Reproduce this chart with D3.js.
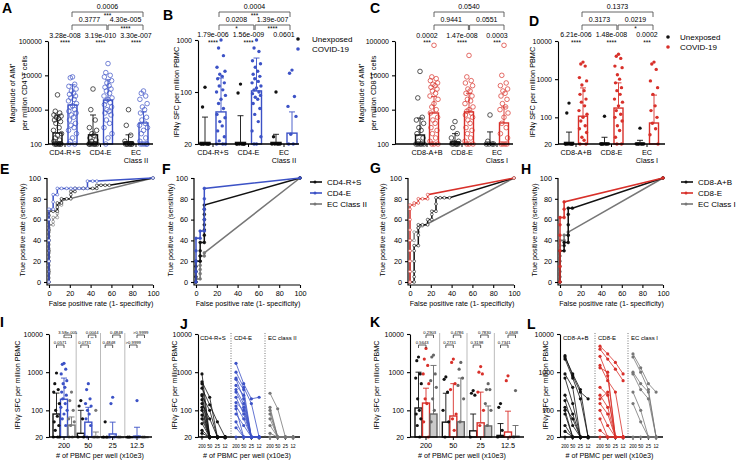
<!DOCTYPE html>
<html>
<head>
<meta charset="utf-8">
<title>AIM and IFNγ responses</title>
<script src="https://cdn.jsdelivr.net/npm/d3@7"></script>
<style>
  body { margin: 0; background: #fff; }
  svg { display: block; }
</style>
</head>
<body>
<svg id="fig" width="739" height="462"></svg>
<script>
const FONT = '"Liberation Sans", Arial, sans-serif';
const BLACK = '#111', BLUE = '#3c52c6', RED = '#d8302a', GREY = '#777';

/////////// A: AIM+ CD4 ///////////
const cd4Groups = ['CD4-R+S', 'CD4-E', 'EC|Class II'];
const aim4UnexpBar = [210, 185, 115];
const aim4UnexpErr = [700, 700, 185];
const aim4CovidBar = [1370, 1900, 410];
const aim4CovidErr = [5300, 7400, 860];
const aim4UnexpPts = [
  [2700, 900, 800, 700, 650, 600, 550, 500, 450, 400, 300, 250, 200, 180, 150, 130, 120, 100, 100, 100, 100, 100, 100, 100],
  [4000, 1000, 500, 300, 250, 200, 180, 150, 130, 120, 100, 100, 100, 100, 100, 100, 100],
  [1000, 350, 180, 120, 100, 100, 100, 100, 100, 100, 100]
];
const aim4CovidPts = [
  [9000, 8500, 5500, 4800, 4000, 3500, 3000, 2800, 2500, 2200, 2000, 1800, 1500, 1300, 1200, 1000, 900, 800, 700, 600, 500, 400, 350, 300, 250, 200, 150, 120, 100, 100],
  [22000, 12000, 10000, 9000, 7000, 6000, 5000, 4500, 4000, 3500, 3000, 2500, 2200, 2000, 1800, 1600, 1400, 1200, 1000, 900, 800, 700, 500, 400, 300, 200, 150, 100],
  [3500, 3000, 2500, 2000, 1500, 1200, 1000, 800, 600, 500, 400, 350, 300, 250, 200, 150, 120, 100, 100, 100, 100, 100]
];
const aim4P = ['3.28e-008', '3.19e-010', '3.30e-007'];
const aim4Stars = ['****', '****', '****'];
const aim4Brackets = [[0, 2, '0.0006', '***', 2], [0, 1, '0.3777', '', 1], [1, 2, '4.30e-005', '****', 1]];

/////////// B: IFNg CD4 ///////////
const ifn4UnexpBar = [21, 21, 21];
const ifn4UnexpErr = [46, 48, 27];
const ifn4CovidBar = [54, 105, 28];
const ifn4CovidErr = [186, 450, 54];
const ifn4UnexpPts = [
  [123, 63, 20, 20, 20, 20, 20, 20, 20, 20],
  [142, 97, 20, 20, 20, 20, 20, 20, 20],
  [100, 25, 20, 20, 20, 20, 20]
];
const ifn4CovidPts = [
  [1000, 700, 500, 300, 250, 220, 200, 180, 150, 130, 110, 100, 90, 80, 70, 60, 50, 45, 40, 35, 30, 25, 22, 20, 20, 20],
  [1000, 700, 600, 400, 350, 300, 250, 220, 200, 180, 160, 150, 130, 120, 110, 100, 95, 90, 85, 80, 70, 60, 50, 40, 30, 25, 20, 20],
  [264, 230, 87, 64, 47, 27, 20, 20]
];
const ifn4P = ['1.79e-006', '1.56e-009', '0.0601'];
const ifn4Stars = ['****', '****', ''];
const ifn4Brackets = [[0, 2, '0.0004', '***', 2], [0, 1, '0.0208', '*', 1], [1, 2, '1.39e-007', '****', 1]];

/////////// C: AIM+ CD8 ///////////
const cd8Groups = ['CD8-A+B', 'CD8-E', 'EC|Class I'];
const aim8UnexpBar = [183, 115, 102];
const aim8UnexpErr = [570, 200, 225];
const aim8CovidBar = [800, 860, 410];
const aim8CovidErr = [2400, 3000, 1200];
const aim8UnexpPts = [
  [13000, 2200, 600, 500, 400, 300, 250, 200, 150, 120, 100, 100, 100, 100, 100],
  [450, 300, 200, 150, 120, 110, 100, 100, 100, 100, 100],
  [700, 120, 100, 100, 100, 100]
];
const aim8CovidPts = [
  [75000, 9000, 8000, 7000, 6000, 5500, 5000, 4500, 4000, 3500, 3000, 2500, 2000, 1500, 1200, 1000, 800, 600, 500, 400, 300, 250, 200, 150, 120, 100, 100, 100],
  [38000, 9000, 7000, 6000, 5000, 4000, 3500, 3000, 2500, 2000, 1800, 1500, 1200, 1000, 900, 800, 700, 600, 500, 400, 300, 250, 200, 150, 120, 100, 100, 100],
  [75000, 10000, 6000, 5000, 4000, 3500, 3000, 2500, 2000, 1500, 1200, 1000, 800, 600, 400, 300, 200, 150, 100, 100, 100, 100]
];
const aim8P = ['0.0002', '1.47e-008', '0.0003'];
const aim8Stars = ['***', '****', '***'];
const aim8Brackets = [[0, 2, '0.0540', '', 2], [0, 1, '0.9441', '', 1], [1, 2, '0.0551', '', 1]];

/////////// D: IFNg CD8 ///////////
const ifn8UnexpBar = [22, 21, 21];
const ifn8UnexpErr = [41, 30, 25];
const ifn8CovidBar = [107, 175, 71];
const ifn8CovidErr = [590, 800, 382];
const ifn8UnexpPts = [
  [236, 130, 20, 20, 20, 20, 20, 20, 20],
  [107, 20, 20, 20, 20, 20, 20, 20],
  [52, 20, 20, 20, 20, 20, 20]
];
const ifn8CovidPts = [
  [2800, 2500, 2200, 1100, 900, 700, 500, 400, 300, 250, 200, 150, 120, 100, 80, 60, 50, 40, 30, 25, 20, 20],
  [4500, 4000, 3500, 2200, 2000, 1300, 1000, 800, 600, 500, 400, 300, 250, 200, 150, 120, 100, 80, 60, 45, 30, 20, 20],
  [2800, 2500, 1800, 900, 600, 400, 200, 150, 100, 70, 50, 35, 20]
];
const ifn8P = ['6.21e-006', '1.48e-008', '0.0002'];
const ifn8Stars = ['****', '****', '***'];
const ifn8Brackets = [[0, 2, '0.1373', '', 2], [0, 1, '0.3173', '', 1], [1, 2, '0.0219', '*', 1]];

/////////// E-H: ROC curves [FPR, TPR] ///////////
const rocE_RS = [[0,0],[0,10],[0,20],[0,30],[0,40],[0,50],[0,60],[0,64],[0,68],[4,68],[8,68],[8,72],[8,76],[12,76],[12,80],[17,80],[21,80],[21,84],[21,87],[25,87],[25,90],[33,90],[42,90],[46,90],[46,93],[50,93],[54,93],[58,93],[100,100]];
const rocE_E = [[0,0],[0,20],[0,40],[0,60],[0,70],[4,70],[4,77],[4,84],[8,84],[8,90],[12,90],[17,90],[21,90],[25,90],[29,90],[33,90],[37,90],[37,97],[42,97],[46,97],[100,100]];
const rocE_EC = [[0,0],[0,4],[0,8],[0,12],[0,16],[0,20],[0,24],[0,28],[0,32],[0,36],[0,40],[0,44],[0,48],[0,52],[0,55],[4,55],[4,58],[4,62],[8,62],[8,66],[8,70],[8,74],[12,74],[12,78],[100,100]];
const rocF_RS = [[0,0],[0,5],[0,10],[0,15],[0,20],[4,20],[4,25],[4,30],[4,38],[8,38],[8,45],[8,50],[8,55],[8,60],[8,65],[8,70],[8,74],[100,100]];
const rocF_E = [[0,0],[0,10],[0,20],[0,30],[0,42],[4,42],[4,49],[8,49],[8,60],[8,70],[8,80],[8,90],[100,100]];
const rocF_EC = [[0,0],[0,3],[4,3],[4,8],[4,12],[4,16],[4,20],[4,25],[8,25],[8,28],[100,100]];
const rocG_AB = [[0,0],[4,0],[4,5],[4,10],[4,20],[4,30],[4,35],[8,35],[8,45],[8,52],[8,55],[12,55],[17,55],[17,60],[21,60],[21,65],[21,68],[25,68],[25,75],[25,81],[29,81],[33,81],[38,81],[100,100]];
const rocG_E = [[0,0],[0,10],[0,20],[0,30],[0,40],[0,50],[0,60],[0,70],[0,74],[4,74],[4,76],[8,76],[8,80],[12,80],[17,80],[17,84],[100,100]];
const rocG_EC = [[0,0],[0,10],[0,20],[0,30],[0,40],[4,40],[4,48],[8,48],[8,52],[12,54],[17,56],[100,100]];
const rocH_AB = [[0,0],[0,30],[4,30],[4,35],[4,38],[8,38],[8,45],[8,55],[8,65],[8,71],[12,71],[100,100]];
const rocH_E = [[0,0],[0,15],[0,30],[0,45],[0,55],[0,62],[4,62],[4,70],[4,77],[100,100]];
const rocH_EC = [[0,0],[0,5],[0,10],[0,15],[0,20],[0,25],[0,30],[0,35],[0,40],[4,40],[4,45],[8,45],[8,48],[100,100]];
const rocTicks = [0, 20, 40, 60, 80, 100];

/////////// I, K: titration bars ///////////
const cellGroups = ['200', '50', '25', '12.5'];
const titI_RS_Bar = [80, 25, 20, 20];
const titI_RS_Err = [283, 100, 20, 20];
const titI_E_Bar = [195, 49, 24, 21];
const titI_E_Err = [700, 120, 49, 36];
const titI_EC_Bar = [41, 20, 20, 20];
const titI_EC_Err = [67, 27, 20, 20];
const titI_RS_Pts = [[950, 500, 350, 300, 150, 100, 70, 50, 40, 30, 20, 20, 20], [180, 130, 60, 20, 20], [50, 20, 20], [20, 20]];
const titI_E_Pts = [[1700, 1600, 1200, 900, 600, 500, 400, 300, 250, 200, 150, 120, 100, 80, 60, 40], [500, 350, 200, 150, 130, 100, 80, 60, 40, 20], [220, 150, 20, 20], [180, 20, 20]];
const titI_EC_Pts = [[300, 180, 100, 60, 50, 40, 20, 20], [100, 20, 20], [20, 20], [20, 20]];
const titI_lowP = ['0.0571', '0.0731', '0.4848', '>0.9999'];
const titI_highP = ['3.58e-005', '0.0044', '0.4848', '>0.9999'];
const titI_highStars = ['****', '**', '', ''];

const titK_AB_Bar = [115, 49, 29, 22];
const titK_AB_Err = [1000, 280, 80, 45];
const titK_E_Bar = [155, 71, 47, 27];
const titK_E_Err = [380, 500, 300, 95];
const titK_EC_Bar = [80, 50, 39, 21];
const titK_EC_Err = [1500, 700, 130, 40];
const titK_AB_Pts = [[2500, 2000, 900, 700, 500, 200, 100, 80, 60, 40, 20], [750, 650, 300, 100, 50, 20], [330, 280, 250, 20], [150, 120, 30, 20]];
const titK_E_Pts = [[4200, 2200, 1500, 900, 500, 200, 150, 50, 20], [2200, 1800, 500, 350, 80, 60, 30], [1400, 1000, 900, 300, 100, 40], [800, 600, 20]];
const titK_EC_Pts = [[2800, 2500, 900, 600, 400, 200, 100, 50], [1800, 1200, 700, 450, 200, 50], [500, 350, 350, 150, 100, 40], [330, 20]];
const titK_lowP = ['0.5643', '0.2731', '0.3198', '0.7341'];
const titK_highP = ['0.2903', '0.4786', '0.7830', '0.4848'];

/////////// J, L: per-donor titration lines (200, 50, 25, 12) ///////////
const wellTicks = ['200', '50', '25', '12'];
const donorsJ_RS = [[900,20,20,20],[560,220,20,20],[500,20,20,20],[380,140,50,20],[260,20,20,20],[240,100,20,20],[190,20,20,20],[150,60,20,20],[120,20,20,20],[100,20,20,20],[75,20,20,20],[60,20,20,20],[45,20,20,20],[30,20,20,20],[25,20,20,20],[20,20,20,20]];
const donorsJ_E = [[1700,500,200,220],[1000,400,150,20],[700,350,20,20],[650,200,20,20],[450,250,20,20],[350,150,20,20],[300,120,20,20],[220,80,20,20],[160,100,20,20],[130,60,20,20],[110,20,20,20],[80,40,20,20],[50,20,20,20],[35,20,20,20],[20,20,20,20]];
const donorsJ_EC = [[280,110,20,20],[120,20,20,20],[100,20,20,20],[80,20,20,20],[60,20,20,20],[40,20,20,20],[25,20,20,20],[20,20,20,20]];
const donorsL_AB = [[2700,800,300,200],[2500,900,350,20],[2200,700,200,20],[900,400,20,20],[700,150,20,20],[250,80,20,20],[180,40,20,20],[120,60,20,20],[100,20,20,20],[80,20,20,20],[40,20,20,20],[28,20,20,20],[20,20,20,20]];
const donorsL_E = [[4800,3000,1800,900],[4000,2200,1200,600],[2600,800,20,20],[1500,600,300,20],[1300,1000,20,20],[400,250,20,20],[250,120,20,20],[200,300,20,20],[150,80,20,20],[100,40,20,20],[60,20,20,20],[30,20,20,20],[20,20,20,20]];
const donorsL_EC = [[3000,1300,500,300],[2500,1000,350,20],[1000,500,300,20],[900,350,200,20],[300,100,20,20],[150,50,20,20],[20,20,20,20]];

const svg = d3.select('#fig').attr('font-family', FONT);
const jit = [0, -2.2, 2.2, -3.6, 3.6, -1.1, 1.1, -3, 3, -1.6, 1.6, -4, 4];

function txt(x, y, t, size, anchor) {
  return svg.append('text').attr('x', x).attr('y', y).attr('font-size', size)
    .attr('text-anchor', anchor || 'middle').attr('fill', '#000').text(t);
}
function rotTxt(x, y, t, size) {
  return svg.append('text').attr('transform', 'translate(' + x + ',' + y + ') rotate(-90)')
    .attr('font-size', size).attr('text-anchor', 'middle').attr('fill', '#000').text(t);
}
function letter(x, y, t) {
  txt(x, y, t, 14, 'start').attr('font-weight', 'bold');
}
function styleAxis(g, fs) {
  g.attr('font-family', FONT).attr('font-size', fs);
  g.selectAll('path, line').attr('stroke', '#000').attr('stroke-width', 1.1);
  g.selectAll('text').attr('fill', '#000');
}

//////////BAR + DOT PANELS//////////
function barPanel(o) {
  const g = svg.append('g');
  const y = d3.scaleLog().domain(o.yDomain).range(o.yRange);
  const bottom = o.yRange[0];
  const cx = d3.scalePoint().domain(d3.range(o.groups.length)).range(o.centers);

  if (o.sepTop) {
    for (let i = 0; i < o.groups.length - 1; i++) {
      const sx = (cx(i) + cx(i + 1)) / 2;
      g.append('line').attr('x1', sx).attr('x2', sx).attr('y1', o.sepTop).attr('y2', bottom)
        .attr('stroke', '#bbb').attr('stroke-width', 1);
    }
  }

  o.series.forEach((s) => {
    s.bars.forEach((v, i) => {
      const yy = y(v);
      g.append('rect')
        .attr('x', cx(i) + s.off - o.bw / 2)
        .attr('y', yy)
        .attr('width', o.bw)
        .attr('height', Math.max(bottom - yy, 0.6))
        .attr('fill', s.fill || 'none')
        .attr('stroke', s.color)
        .attr('stroke-width', 1.4);
    });
  });

  o.series.forEach((s) => {
    const dot = s.dot || s.color;
    s.pts.forEach((arr, i) => {
      arr.forEach((v, j) => {
        g.append('circle')
          .attr('cx', cx(i) + s.off + jit[j % jit.length] * o.bw / 9)
          .attr('cy', y(v))
          .attr('r', o.r)
          .attr('fill', o.open ? 'none' : dot)
          .attr('stroke', dot)
          .attr('stroke-width', o.open ? 0.7 : 0);
      });
    });
  });

  o.series.forEach((s) => {
    s.errs.forEach((v, i) => {
      if (v <= s.bars[i]) return;
      const x0 = cx(i) + s.off;
      g.append('line').attr('x1', x0).attr('x2', x0).attr('y1', y(s.bars[i])).attr('y2', y(v))
        .attr('stroke', s.color).attr('stroke-width', 0.9);
      g.append('line').attr('x1', x0 - 3).attr('x2', x0 + 3).attr('y1', y(v)).attr('y2', y(v))
        .attr('stroke', s.color).attr('stroke-width', 0.9);
    });
  });

  const yAxis = g.append('g').attr('transform', 'translate(' + o.left + ',0)')
    .call(d3.axisLeft(y).tickValues(o.yTicks).tickFormat(d3.format('d')).tickSize(3).tickSizeOuter(0));
  styleAxis(yAxis, 7);
  g.append('line').attr('x1', o.left).attr('x2', o.right).attr('y1', bottom).attr('y2', bottom)
    .attr('stroke', '#000').attr('stroke-width', 1.3);
  o.groups.forEach((name, i) => {
    g.append('line').attr('x1', cx(i)).attr('x2', cx(i)).attr('y1', bottom).attr('y2', bottom + 3)
      .attr('stroke', '#000').attr('stroke-width', 1);
    name.split('|').forEach((line, k) => txt(cx(i), o.catY + k * 7.5, line, o.catSize || 7.3));
  });

  if (o.pvals) {
    o.pvals.forEach((p, i) => {
      txt(cx(i), o.pY, p, 7);
      if (o.stars[i]) txt(cx(i), o.pY + 7.5, o.stars[i], 6.5);
    });
  }
  if (o.brackets) {
    o.brackets.forEach(([a, b, p, st, lev]) => {
      const yy = o.brY[lev - 1];
      const shrink = lev === 1 ? 0.6 : 0;
      const x1 = cx(a) + o.brOff + (a === 1 ? shrink : 0);
      const x2 = cx(b) + o.brOff - (b === 1 ? shrink : 0);
      g.append('path').attr('d', 'M' + x1 + ',' + (yy + 5) + 'V' + yy + 'H' + x2 + 'V' + (yy + 5))
        .attr('fill', 'none').attr('stroke', '#555').attr('stroke-width', 0.9);
      txt((x1 + x2) / 2, yy - 3, p, 7);
      if (st) txt((x1 + x2) / 2, yy + 5.5, st, 6.5);
    });
  }
  if (o.inBr) {
    const s = o.series;
    o.groups.forEach((name, i) => {
      const pairs = [[0, 1, o.inBr.lowY, o.inBr.low[i], ''], [1, 2, o.inBr.highY, o.inBr.high[i], o.inBr.highStars ? o.inBr.highStars[i] : '']];
      pairs.forEach(([a, b, yy, p, st]) => {
        const x1 = cx(i) + s[a].off, x2 = cx(i) + s[b].off;
        g.append('path').attr('d', 'M' + x1 + ',' + (yy + 3) + 'V' + yy + 'H' + x2 + 'V' + (yy + 3))
          .attr('fill', 'none').attr('stroke', '#333').attr('stroke-width', 0.8);
        txt((x1 + x2) / 2, yy - 1.5, p, 4.2);
        if (st) txt((x1 + x2) / 2, yy + 4.5, st, 4.2);
      });
    });
  }
  return { y, cx };
}

//////////ROC PANELS//////////
function rocPanel(o) {
  const g = svg.append('g');
  const x = d3.scaleLinear().domain([0, 100]).range([o.left, o.right]);
  const y = d3.scaleLinear().domain([0, 100]).range([o.bottom, o.top]);
  const xa = g.append('g').attr('transform', 'translate(0,' + (o.bottom + 3) + ')')
    .call(d3.axisBottom(x).tickValues(rocTicks).tickSize(3).tickSizeOuter(0));
  xa.select('.domain').remove();
  styleAxis(xa, 7.3);
  const ya = g.append('g').attr('transform', 'translate(' + (o.left - 2) + ',0)')
    .call(d3.axisLeft(y).tickValues(rocTicks).tickSize(3).tickSizeOuter(0));
  ya.select('.domain').remove();
  styleAxis(ya, 7.3);
  g.append('path').attr('d', 'M' + (o.left - 2) + ',' + o.top + 'V' + (o.bottom + 3) + 'H' + o.right)
    .attr('fill', 'none').attr('stroke', '#000').attr('stroke-width', 1.2);

  const line = d3.line().x((d) => x(d[0])).y((d) => y(d[1]));
  o.curves.forEach((c) => {
    g.append('path').attr('d', line(c.pts)).attr('fill', 'none').attr('stroke', c.color).attr('stroke-width', 1.5);
    c.pts.forEach((d) => {
      g.append('circle').attr('cx', x(d[0])).attr('cy', y(d[1])).attr('r', 1.4)
        .attr('fill', o.open ? '#fff' : c.color).attr('stroke', c.color).attr('stroke-width', 0.6);
    });
  });
  txt((o.left + o.right) / 2, o.bottom + 24, 'False positive rate (1- specificity)', 7.2);
  rotTxt(o.ytx, (o.top + o.bottom) / 2, 'True positive rate (sensitivity)', 7.2);
  if (o.legend) {
    o.legend.forEach((d, i) => {
      const ly = o.legY + i * 11;
      g.append('line').attr('x1', o.legX).attr('x2', o.legX + 12).attr('y1', ly).attr('y2', ly)
        .attr('stroke', d.color).attr('stroke-width', 1.6);
      g.append('circle').attr('cx', o.legX + 5).attr('cy', ly).attr('r', 1.5).attr('fill', d.color);
      txt(o.legX + 17, ly + 2.8, d.name, 8, 'start');
    });
  }
}

//////////DONOR LINE PANELS//////////
function linePanel(o) {
  const g = svg.append('g');
  const y = d3.scaleLog().domain([20, 10000]).range([437, 334]);
  const yAxis = g.append('g').attr('transform', 'translate(' + o.left + ',0)')
    .call(d3.axisLeft(y).tickValues([20, 100, 1000, 10000]).tickFormat(d3.format('d')).tickSize(3).tickSizeOuter(0));
  styleAxis(yAxis, 7);
  g.append('line').attr('x1', o.left).attr('x2', o.right).attr('y1', 437).attr('y2', 437)
    .attr('stroke', '#000').attr('stroke-width', 1.3);
  o.sections.forEach((sec, si) => {
    const xs = (k) => sec.start + k * 7.7;
    if (si > 0) {
      const sx = sec.start - 5;
      g.append('line').attr('x1', sx).attr('x2', sx).attr('y1', 333).attr('y2', 437)
        .attr('stroke', '#666').attr('stroke-width', 0.9).attr('stroke-dasharray', '1,1.5');
    }
    txt(sec.start - 2, 340, sec.label, 6, 'start');
    wellTicks.forEach((t, k) => {
      g.append('line').attr('x1', xs(k)).attr('x2', xs(k)).attr('y1', 437).attr('y2', 440).attr('stroke', '#000').attr('stroke-width', 0.8);
      txt(xs(k), 448, t, 4.6);
    });
    const line = d3.line().x((d, k) => xs(k)).y((d) => y(d));
    sec.donors.forEach((d) => {
      g.append('path').attr('d', line(d)).attr('fill', 'none').attr('stroke', sec.color).attr('stroke-width', 0.8);
      d.forEach((v, k) => {
        g.append('circle').attr('cx', xs(k)).attr('cy', y(v)).attr('r', 1.6).attr('fill', sec.color);
      });
    });
  });
  txt((o.left + o.right) / 2 - 2, 458, '# of PBMC per well (x10e3)', 7.2);
  rotTxt(o.ytx, 385, 'IFNγ SFC per million PBMC', 7.2);
}

//////////DRAW//////////
letter(2, 13, 'A');
barPanel({
  left: 48, right: 153, yDomain: [100, 100000], yRange: [144, 41], yTicks: [100, 1000, 10000, 100000],
  centers: [65, 136], bw: 9, r: 2.3, open: true, groups: cd4Groups, catY: 155,
  series: [
    { color: BLACK, off: -7.5, bars: aim4UnexpBar, errs: aim4UnexpErr, pts: aim4UnexpPts },
    { color: BLUE, off: 7.5, bars: aim4CovidBar, errs: aim4CovidErr, pts: aim4CovidPts }
  ],
  pvals: aim4P, stars: aim4Stars, pY: 37.5, brackets: aim4Brackets, brOff: 7, brY: [25, 12]
});
rotTxt(15, 93, 'Magnitude of AIM⁺', 7.3);
rotTxt(27, 93, 'per million CD4⁺ T cells', 7.3);

letter(163, 20, 'B');
barPanel({
  left: 198, right: 299, yDomain: [20, 100, 1000], yRange: [144, 92, 40], yTicks: [20, 100, 1000],
  centers: [213, 284], bw: 10, r: 1.7, open: false, groups: cd4Groups, catY: 155,
  series: [
    { color: BLACK, off: -8, bars: ifn4UnexpBar, errs: ifn4UnexpErr, pts: ifn4UnexpPts },
    { color: BLUE, off: 8, bars: ifn4CovidBar, errs: ifn4CovidErr, pts: ifn4CovidPts }
  ],
  pvals: ifn4P, stars: ifn4Stars, pY: 37, brackets: ifn4Brackets, brOff: 6, brY: [25, 12]
});
rotTxt(179, 92, 'IFNγ SFC per million PBMC', 7.3);
svg.append('circle').attr('cx', 298).attr('cy', 39).attr('r', 1.8).attr('fill', BLACK);
svg.append('circle').attr('cx', 298).attr('cy', 49).attr('r', 1.8).attr('fill', BLUE);
txt(312, 42, 'Unexposed', 8, 'start');
txt(312, 52, 'COVID-19', 8, 'start');

letter(370, 13, 'C');
barPanel({
  left: 395, right: 513, yDomain: [100, 100000], yRange: [144, 41], yTicks: [100, 1000, 10000, 100000],
  centers: [427, 497], bw: 9, r: 2.3, open: true, groups: cd8Groups, catY: 155,
  series: [
    { color: BLACK, off: -7, bars: aim8UnexpBar, errs: aim8UnexpErr, pts: aim8UnexpPts },
    { color: RED, off: 7, bars: aim8CovidBar, errs: aim8CovidErr, pts: aim8CovidPts }
  ],
  pvals: aim8P, stars: aim8Stars, pY: 37.5, brackets: aim8Brackets, brOff: 7, brY: [25, 12]
});
rotTxt(364, 93, 'Magnitude of AIM⁺', 7.3);
rotTxt(376, 93, 'per million CD8⁺ T cells', 7.3);

letter(529, 26, 'D');
barPanel({
  left: 558, right: 665, yDomain: [20, 10000], yRange: [144, 41], yTicks: [20, 100, 1000, 10000],
  centers: [576, 647], bw: 9, r: 1.7, open: false, groups: cd8Groups, catY: 155,
  series: [
    { color: BLACK, off: -7, bars: ifn8UnexpBar, errs: ifn8UnexpErr, pts: ifn8UnexpPts },
    { color: RED, off: 7, bars: ifn8CovidBar, errs: ifn8CovidErr, pts: ifn8CovidPts }
  ],
  pvals: ifn8P, stars: ifn8Stars, pY: 37, brackets: ifn8Brackets, brOff: 6, brY: [25, 12]
});
rotTxt(535, 92, 'IFNγ SFC per million PBMC', 7.3);
svg.append('circle').attr('cx', 668).attr('cy', 37).attr('r', 1.8).attr('fill', BLACK);
svg.append('circle').attr('cx', 668).attr('cy', 47).attr('r', 1.8).attr('fill', RED);
txt(680, 40, 'Unexposed', 8, 'start');
txt(680, 50, 'COVID-19', 8, 'start');

letter(0, 174, 'E');
rocPanel({ left: 49, right: 153, top: 178, bottom: 282, ytx: 25, open: true,
  curves: [{ pts: rocE_EC, color: GREY }, { pts: rocE_RS, color: BLACK }, { pts: rocE_E, color: BLUE }] });
letter(162, 174, 'F');
rocPanel({ left: 196, right: 300, top: 178, bottom: 282, ytx: 173, open: false,
  curves: [{ pts: rocF_EC, color: GREY }, { pts: rocF_RS, color: BLACK }, { pts: rocF_E, color: BLUE }],
  legX: 310, legY: 182,
  legend: [{ name: 'CD4-R+S', color: BLACK }, { name: 'CD4-E', color: BLUE }, { name: 'EC Class II', color: GREY }] });
letter(370, 173, 'G');
rocPanel({ left: 410, right: 514, top: 178, bottom: 282, ytx: 385, open: true,
  curves: [{ pts: rocG_EC, color: GREY }, { pts: rocG_AB, color: BLACK }, { pts: rocG_E, color: RED }] });
letter(521, 174, 'H');
rocPanel({ left: 560, right: 663, top: 178, bottom: 282, ytx: 537, open: false,
  curves: [{ pts: rocH_EC, color: GREY }, { pts: rocH_AB, color: BLACK }, { pts: rocH_E, color: RED }],
  legX: 681, legY: 182,
  legend: [{ name: 'CD8-A+B', color: BLACK }, { name: 'CD8-E', color: RED }, { name: 'EC Class I', color: GREY }] });

letter(0, 327, 'I');
barPanel({
  left: 49, right: 152, yDomain: [20, 10000], yRange: [437, 334], yTicks: [20, 100, 1000, 10000],
  centers: [64, 137], bw: 7, r: 1.6, open: false, groups: cellGroups, catY: 448, catSize: 7.3, sepTop: 333,
  series: [
    { color: BLACK, off: -7.5, bars: titI_RS_Bar, errs: titI_RS_Err, pts: titI_RS_Pts },
    { color: BLUE, off: 0, bars: titI_E_Bar, errs: titI_E_Err, pts: titI_E_Pts },
    { color: GREY, off: 7.5, bars: titI_EC_Bar, errs: titI_EC_Err, pts: titI_EC_Pts }
  ],
  inBr: { lowY: 345, highY: 335, low: titI_lowP, high: titI_highP, highStars: titI_highStars }
});
txt(100, 458, '# of PBMC per well (x10e3)', 7.2);
rotTxt(20, 385, 'IFNγ SFC per million PBMC', 7.2);

letter(180, 329, 'J');
linePanel({ left: 198, right: 300, ytx: 177, sections: [
  { label: 'CD4-R+S', color: BLACK, start: 202, donors: donorsJ_RS },
  { label: 'CD4-E', color: BLUE, start: 236, donors: donorsJ_E },
  { label: 'EC class II', color: GREY, start: 270, donors: donorsJ_EC }
] });

letter(370, 327, 'K');
barPanel({
  left: 410, right: 524, yDomain: [20, 10000], yRange: [437, 334], yTicks: [20, 100, 1000, 10000],
  centers: [426, 508], bw: 7, r: 1.6, open: false, groups: cellGroups, catY: 448, catSize: 7.3, sepTop: 333,
  series: [
    { color: BLACK, off: -7.5, bars: titK_AB_Bar, errs: titK_AB_Err, pts: titK_AB_Pts },
    { color: RED, off: 0, bars: titK_E_Bar, errs: titK_E_Err, pts: titK_E_Pts },
    { color: '#666', fill: '#c9c9c9', dot: '#666', off: 7.5, bars: titK_EC_Bar, errs: titK_EC_Err, pts: titK_EC_Pts }
  ],
  inBr: { lowY: 345, highY: 335, low: titK_lowP, high: titK_highP }
});
txt(462, 458, '# of PBMC per well (x10e3)', 7.2);
rotTxt(379, 385, 'IFNγ SFC per million PBMC', 7.2);

letter(527, 329, 'L');
linePanel({ left: 560, right: 663, ytx: 548, sections: [
  { label: 'CD8-A+B', color: BLACK, start: 565, donors: donorsL_AB },
  { label: 'CD8-E', color: RED, start: 600, donors: donorsL_E },
  { label: 'EC class I', color: GREY, start: 633, donors: donorsL_EC }
] });
</script>
</body>
</html>
